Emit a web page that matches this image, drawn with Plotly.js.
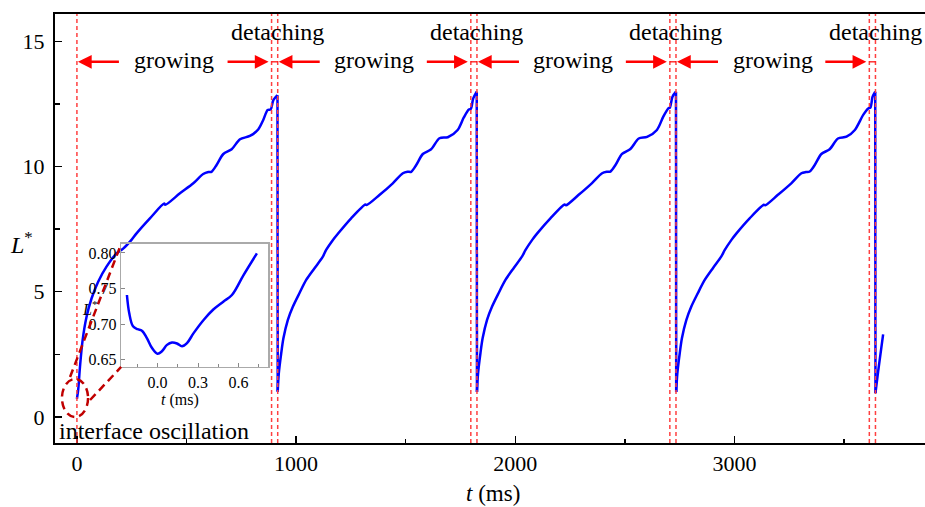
<!DOCTYPE html>
<html>
<head>
<meta charset="utf-8">
<script src="https://cdn.plot.ly/plotly-3.0.1.min.js"></script>
<style>html,body{margin:0;padding:0;background:#fff;}#chart{width:925px;height:507px;}</style>
</head>
<body>
<div id="chart"></div>
<script>
// ---- data ----
// cycle 1 (t in ms, L*)
const t1 = [0, 6, 14, 26, 44, 67, 97, 135, 181, 211, 249, 272, 333, 398, 403, 470, 531, 576, 600, 614, 637, 668, 706, 744, 789, 827, 850, 870, 884, 896, 915];
const L1 = [0.72, 1.1, 2.01, 3.07, 4.0, 4.74, 5.40, 6.0, 6.53, 6.72, 7.07, 7.33, 7.93, 8.52, 8.47, 8.93, 9.33, 9.70, 9.78, 9.79, 10.06, 10.50, 10.69, 11.09, 11.22, 11.48, 11.86, 12.26, 12.28, 12.65, 12.85];
// cycle 2
const t2 = [916, 921, 932, 942, 962, 985, 1015, 1046, 1084, 1122, 1137, 1168, 1190, 1251, 1316, 1322, 1380, 1441, 1487, 1508, 1525, 1548, 1578, 1616, 1654, 1692, 1737, 1765, 1788, 1797, 1808, 1824];
const L2 = [1.01, 1.74, 2.54, 3.14, 3.87, 4.40, 4.94, 5.47, 5.94, 6.40, 6.67, 7.07, 7.31, 7.93, 8.48, 8.46, 8.86, 9.33, 9.73, 9.79, 9.79, 10.06, 10.50, 10.69, 11.13, 11.17, 11.46, 11.96, 12.28, 12.30, 12.72, 12.99];
// cycle 3
const t3 = [1825, 1830, 1841, 1851, 1871, 1894, 1924, 1955, 1993, 2031, 2046, 2077, 2099, 2160, 2225, 2231, 2289, 2350, 2396, 2417, 2434, 2457, 2487, 2525, 2563, 2601, 2646, 2675, 2698, 2705, 2717, 2733];
const L3 = [1.0, 1.74, 2.55, 3.15, 3.88, 4.41, 4.95, 5.47, 5.95, 6.41, 6.66, 7.07, 7.32, 7.93, 8.48, 8.45, 8.87, 9.34, 9.73, 9.79, 9.80, 10.06, 10.50, 10.70, 11.12, 11.18, 11.46, 11.99, 12.32, 12.35, 12.79, 12.99];
// cycle 4
const t4 = [2734, 2739, 2750, 2760, 2780, 2803, 2833, 2864, 2902, 2940, 2955, 2986, 3008, 3069, 3134, 3140, 3198, 3259, 3305, 3326, 3343, 3366, 3396, 3434, 3472, 3511, 3549, 3587, 3610, 3620, 3630, 3642];
const L4 = [1.0, 1.73, 2.54, 3.14, 3.87, 4.41, 4.95, 5.47, 5.95, 6.41, 6.66, 7.07, 7.32, 7.93, 8.47, 8.45, 8.87, 9.33, 9.73, 9.78, 9.80, 10.06, 10.50, 10.69, 11.12, 11.19, 11.46, 12.06, 12.32, 12.35, 12.79, 12.99];
// start of cycle 5
const t5 = [3643, 3655, 3678];
const L5 = [0.95, 1.8, 3.3];

// inset (t in ms, L*)
const tIn = [-0.227, -0.21, -0.182, -0.148, -0.116, -0.079, -0.041, 0.0, 0.032, 0.07, 0.107, 0.144, 0.181, 0.218, 0.267, 0.341, 0.415, 0.489, 0.551, 0.637, 0.736];
const LIn = [0.741, 0.7156, 0.697, 0.693, 0.691, 0.6805, 0.6665, 0.6585, 0.662, 0.671, 0.6744, 0.673, 0.669, 0.6735, 0.6875, 0.706, 0.721, 0.732, 0.741, 0.769, 0.7995];

// phase markers (ms)
const growStart = [0, 916, 1825, 2733];
const growEnd = [888, 1797, 2705, 3615];
const detachEnd = [916, 1825, 2733, 3643];
const phaseGrow = 'growing';
const phaseDetach = 'detaching';

// tick labels
const xTickVals = [0, 1000, 2000, 3000];
const yTickVals = [0, 5, 10, 15];
const inXTickVals = [0, 0.3, 0.6];
const inYTickVals = [0.65, 0.70, 0.75, 0.80];

// ---- build ----
const FONT = 'Liberation Serif';
const BLUE = '#0000ff';
const cyclesT = [t1, t2, t3, t4, t5];
const cyclesL = [L1, L2, L3, L4, L5];
const traces = [];
cyclesT.forEach((tt, i) => {
  traces.push({x: tt, y: cyclesL[i], type: 'scatter', mode: 'lines', xaxis: 'x', yaxis: 'y',
    line: {color: BLUE, width: 2.5, shape: 'spline', smoothing: 0.8}, hoverinfo: 'skip'});
  if (i < cyclesT.length - 1) {
    // the detachment drop from the peak to the start of the next cycle
    const nt = cyclesT[i + 1], nl = cyclesL[i + 1];
    traces.push({x: [tt[tt.length - 1], nt[0]], y: [cyclesL[i][tt.length - 1], nl[0]], type: 'scatter', mode: 'lines',
      xaxis: 'x', yaxis: 'y', line: {color: BLUE, width: 2.5}, hoverinfo: 'skip'});
  }
});
traces.push({x: tIn, y: LIn, type: 'scatter', mode: 'lines', xaxis: 'x2', yaxis: 'y2',
  line: {color: BLUE, width: 2.5, shape: 'spline'}, hoverinfo: 'skip'});

const shapes = [];
const annotations = [];
const dashCol = '#ff4040';
const allLines = [0].concat(growEnd, detachEnd);
allLines.forEach(v => shapes.push({type: 'line', xref: 'x', yref: 'paper', x0: v, x1: v, y0: 0, y1: 1,
  line: {color: dashCol, width: 1.5, dash: '4px,3px'}}));

const yArrow = 14.18;
const msPerPx = 1 / 0.2192;
for (let i = 0; i < growStart.length; i++) {
  annotations.push({x: growStart[i] + 1 * msPerPx, y: yArrow, ax: growStart[i] + 45 * msPerPx, ay: yArrow,
    xref: 'x', yref: 'y', axref: 'x', ayref: 'y', text: ' ', showarrow: true,
    arrowhead: 2, arrowsize: 1.1, arrowwidth: 2.5, arrowcolor: '#ff0000', standoff: 0, startstandoff: 0});
  annotations.push({x: growEnd[i] - 3 * msPerPx, y: yArrow, ax: growEnd[i] - 47 * msPerPx, ay: yArrow,
    xref: 'x', yref: 'y', axref: 'x', ayref: 'y', text: ' ', showarrow: true,
    arrowhead: 2, arrowsize: 1.1, arrowwidth: 2.5, arrowcolor: '#ff0000', standoff: 0, startstandoff: 0});
  shapes.push({type: 'line', xref: 'x', yref: 'y', x0: growEnd[i], x1: detachEnd[i], y0: yArrow, y1: yArrow,
    line: {color: '#ff0000', width: 1.2}});
  annotations.push({x: (growStart[i] + growEnd[i]) / 2, y: 14.24, xref: 'x', yref: 'y', text: phaseGrow,
    showarrow: false, font: {family: FONT, size: 24, color: '#000'}, xanchor: 'center', yanchor: 'middle'});
  annotations.push({x: detachEnd[i], y: 15.38, xref: 'x', yref: 'y', text: phaseDetach,
    showarrow: false, font: {family: FONT, size: 24, color: '#000'}, xanchor: 'center', yanchor: 'middle'});
}

// zoom ellipse & connectors (paper coords)
const dred = '#c00000';
shapes.push({type: 'circle', xref: 'paper', yref: 'paper', x0: 0.008, x1: 0.038, y0: 0.0606, y1: 0.1492,
  line: {color: dred, width: 2.5, dash: '8px,5px'}});
shapes.push({type: 'line', xref: 'paper', yref: 'paper', x0: 0.0173, y0: 0.1538, x1: 0.076, y1: 0.4639,
  line: {color: dred, width: 2.5, dash: '8px,5px'}});
shapes.push({type: 'line', xref: 'paper', yref: 'paper', x0: 0.0403, y0: 0.1002, x1: 0.076, y1: 0.1772,
  line: {color: dred, width: 2.5, dash: '8px,5px'}});

annotations.push({x: 0.0023, y: 0.028, xref: 'paper', yref: 'paper', text: 'interface oscillation',
  showarrow: false, xanchor: 'left', yanchor: 'middle', font: {family: FONT, size: 24, color: '#000'}});
annotations.push({x: 0.5035, y: -0.1166, xref: 'paper', yref: 'paper', text: '<i>t</i> (ms)',
  showarrow: false, xanchor: 'center', yanchor: 'middle', font: {family: FONT, size: 23, color: '#000'}});
annotations.push({x: -0.038, y: 0.466, xref: 'paper', yref: 'paper', text: '<i>L</i><sup>*</sup>',
  showarrow: false, xanchor: 'center', yanchor: 'middle', font: {family: FONT, size: 24, color: '#000'}});
annotations.push({x: 0.1438, y: 0.101, xref: 'paper', yref: 'paper', text: '<i>t</i> (ms)',
  showarrow: false, xanchor: 'center', yanchor: 'middle', font: {family: FONT, size: 16, color: '#000'}});
annotations.push({x: 0.0403, y: 0.3147, xref: 'paper', yref: 'paper', text: '<i>L</i><sup>*</sup>',
  showarrow: false, xanchor: 'center', yanchor: 'middle', font: {family: FONT, size: 16, color: '#000'}});

const layout = {
  width: 925, height: 507,
  margin: {l: 55, r: 0, t: 14, b: 64},
  paper_bgcolor: '#fff', plot_bgcolor: 'rgba(0,0,0,0)',
  showlegend: false,
  font: {family: FONT, color: '#000'},
  xaxis: {domain: [0, 1], range: [-100, 3869], tickvals: xTickVals, ticks: 'inside', ticklen: 7, tickwidth: 1.5,
    tickcolor: '#000', minor: {dtick: 500, tick0: 0, ticks: 'inside', ticklen: 4, tickwidth: 1.5, tickcolor: '#000'},
    showline: true, linewidth: 2, linecolor: '#000', mirror: true, showgrid: false, zeroline: false,
    tickfont: {family: FONT, size: 22, color: '#000'}},
  yaxis: {domain: [0, 1], range: [-1.04, 16.09], tickvals: yTickVals, ticks: 'inside', ticklen: 7, tickwidth: 1.5,
    tickcolor: '#000', minor: {dtick: 2.5, tick0: 0, ticks: 'inside', ticklen: 5, tickwidth: 1.5, tickcolor: '#000'},
    showline: true, linewidth: 2, linecolor: '#000', mirror: false, showgrid: false, zeroline: false,
    tickfont: {family: FONT, size: 22, color: '#000'}, ticklabelstandoff: 4},
  xaxis2: {domain: [0.076, 0.2451], anchor: 'y2', range: [-0.27, 0.82], tickvals: inXTickVals, tickformat: '.1f',
    ticks: 'inside', ticklen: 4, tickcolor: '#888', minor: {dtick: 0.15, tick0: 0, ticks: 'inside', ticklen: 3, tickcolor: '#888'},
    showline: true, linewidth: 1.5, linecolor: '#aaa', mirror: true, showgrid: false, zeroline: false,
    tickfont: {family: FONT, size: 16, color: '#000'}},
  yaxis2: {domain: [0.1772, 0.4639], anchor: 'x2', range: [0.640, 0.8126], tickvals: inYTickVals, tickformat: '.2f',
    ticks: 'inside', ticklen: 4, tickcolor: '#888',
    showline: true, linewidth: 1.5, linecolor: '#aaa', mirror: true, showgrid: false, zeroline: false,
    tickfont: {family: FONT, size: 16, color: '#000'}},
  shapes: shapes,
  annotations: annotations
};

Plotly.newPlot('chart', traces, layout, {staticPlot: true, displayModeBar: false});
</script>
</body>
</html>
